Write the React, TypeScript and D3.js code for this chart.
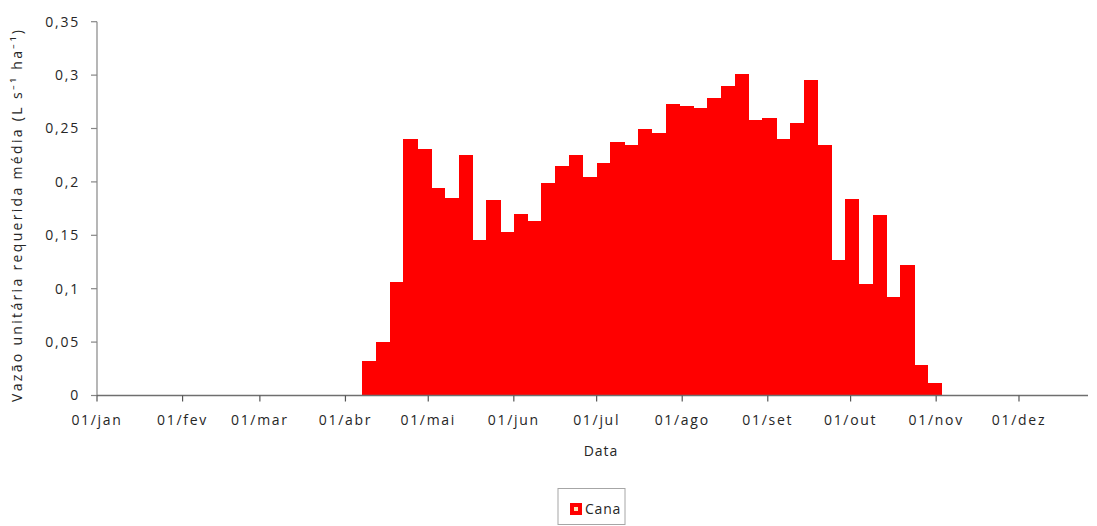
import React from "react";
import * as d3 from "d3";

// ---- data ----
const year = 2013;
const firstPeriodStart = "2013-04-07";
const periodDays = 5;
const canaValues = [
  0.032, 0.050, 0.106, 0.240, 0.231, 0.194, 0.185, 0.225, 0.146, 0.183,
  0.153, 0.170, 0.163, 0.199, 0.215, 0.225, 0.205, 0.218, 0.237, 0.235,
  0.250, 0.246, 0.273, 0.271, 0.269, 0.279, 0.290, 0.301, 0.258, 0.260,
  0.240, 0.255, 0.295, 0.235, 0.127, 0.184, 0.104, 0.169, 0.092, 0.122,
  0.029, 0.012,
];
const monthLabels = [
  "01/jan", "01/fev", "01/mar", "01/abr", "01/mai", "01/jun",
  "01/jul", "01/ago", "01/set", "01/out", "01/nov", "01/dez",
];
const yTicks = [0, 0.05, 0.1, 0.15, 0.2, 0.25, 0.3, 0.35];
const yTitle = "Vazão unitária requerida média (L s⁻¹ ha⁻¹)";
const xTitle = "Data";
const seriesName = "Cana";

const W = 1097;
const H = 526;
const FONT = "'Open Sans', sans-serif";
const TXT = "#262626";

export default function App() {
  const parse = d3.timeParse("%Y-%m-%d");
  const x = d3
    .scaleTime()
    .domain([new Date(year, 0, 1), new Date(year, 11, 26)])
    .range([97, 1088]);
  const y = d3.scaleLinear().domain([0, 0.35]).range([395.5, 21.7]);
  const locale = d3.formatLocale({
    decimal: ",",
    thousands: ".",
    grouping: [3],
    currency: ["", ""],
  });
  const fmt = locale.format("~g");

  const start = parse(firstPeriodStart) as Date;
  const bars = canaValues.map((v, i) => {
    const s = d3.timeDay.offset(start, i * periodDays);
    const e = d3.timeDay.offset(start, (i + 1) * periodDays);
    return { s, e, v };
  });

  const monthTicks = monthLabels.map((lab, i) => ({
    date: new Date(year, i, 1),
    lab,
  }));

  const x0 = x.range()[0];
  const x1 = x.range()[1];
  const yBase = y(0);

  return (
    <svg
      width={W}
      height={H}
      style={{ position: "absolute", left: 0, top: 0, background: "#fff" }}
      fontFamily={FONT}
    >
      <rect x={0} y={0} width={W} height={H} fill="#ffffff" />
      {/* bars */}
      <g shapeRendering="crispEdges">
        {bars.map((b, i) => (
          <rect
            key={i}
            x={x(b.s)}
            y={y(b.v)}
            width={x(b.e) - x(b.s) + 0.5}
            height={yBase - y(b.v)}
            fill="#ff0000"
          />
        ))}
      </g>
      {/* y axis */}
      <line x1={x0} x2={x0} y1={y(0.35)} y2={yBase} stroke="#868686" strokeWidth={1.2} />
      {yTicks.map((t) => (
        <g key={t}>
          <line x1={x0 - 6} x2={x0} y1={y(t)} y2={y(t)} stroke="#868686" strokeWidth={1.2} />
          <text
            x={80}
            y={y(t)}
            dy="0.35em"
            textAnchor="end"
            fontSize={14}
            letterSpacing={1.8}
            fill={TXT}
          >
            {fmt(t)}
          </text>
        </g>
      ))}
      {/* x axis */}
      <line x1={x0} x2={x1} y1={yBase} y2={yBase} stroke="#6f6f6f" strokeWidth={1.4} />
      {monthTicks.map((m) => (
        <g key={m.lab}>
          <line x1={x(m.date)} x2={x(m.date)} y1={yBase} y2={yBase + 6} stroke="#555" strokeWidth={1.2} />
          <text
            x={x(m.date)}
            y={425}
            textAnchor="middle"
            fontSize={14}
            letterSpacing={1.7}
            fill={TXT}
          >
            {m.lab}
          </text>
        </g>
      ))}
      {/* titles */}
      <text x={601} y={456} textAnchor="middle" fontSize={14} letterSpacing={1} fill={TXT}>
        {xTitle}
      </text>
      <text
        transform={`translate(22,216) rotate(-90)`}
        textAnchor="middle"
        fontSize={14}
        textLength={372}
        lengthAdjust="spacing"
        fill={TXT}
      >
        {yTitle}
      </text>
      {/* legend */}
      <rect x={558} y={488.5} width={67} height={36} fill="#fff" stroke="#a6a6a6" strokeWidth={1} />
      <rect x={570} y={503} width={12} height={12} fill="#ff0000" />
      <rect x={574} y={507} width={4} height={4} fill="#ffe6b8" />
      <text x={585} y={514} fontSize={14} letterSpacing={0.8} fill={TXT}>
        {seriesName}
      </text>
    </svg>
  );
}
